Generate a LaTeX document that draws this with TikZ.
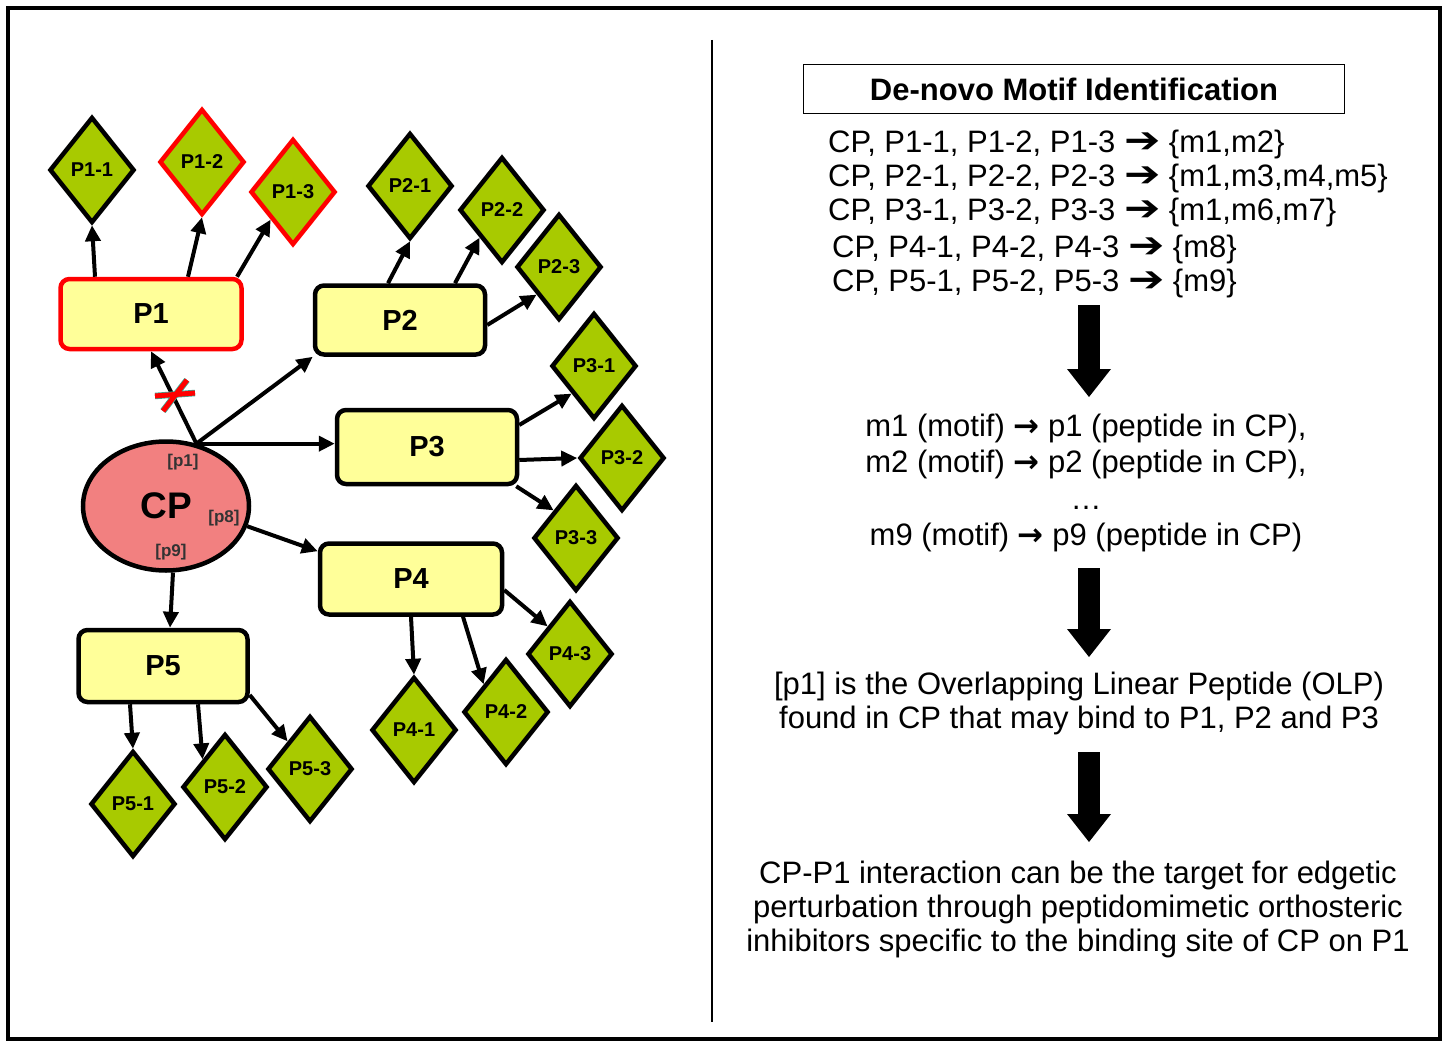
\documentclass[tikz,border=0pt]{standalone}
\usepackage{fontspec}
\setmainfont{Liberation Sans}
\newfontfamily\dingfont{DejaVu Sans}
\usetikzlibrary{arrows.meta,shapes}
\definecolor{boxyel}{RGB}{255,255,153}
\definecolor{leafgrn}{RGB}{168,202,0}
\definecolor{cppink}{RGB}{242,128,128}
\definecolor{xteal}{RGB}{60,170,150}
\tikzstyle{pbox}=[rectangle,rounded corners=9pt,draw=black,line width=4.5pt,fill=boxyel,font=\bfseries\fontsize{29}{29}\selectfont]
\tikzstyle{pleaf}=[diamond,draw=black,line width=4.5pt,fill=leafgrn,inner sep=0pt,minimum width=85pt,minimum height=106pt,font=\bfseries\fontsize{20}{20}\selectfont]
\tikzstyle{ocont}=[ellipse,draw=black,line width=4.5pt,fill=cppink,minimum width=166pt,minimum height=129pt,font=\bfseries\fontsize{37}{37}\selectfont]
\tikzstyle{plab}=[inner sep=0pt,text=black!80,font=\bfseries\fontsize{17}{17}\selectfont]
\tikzstyle{dgraph}=[-{Triangle[length=16pt,width=15pt]}, line width=4pt]
\tikzstyle{bigarr}=[-{Triangle[length=28pt,width=44pt,line width=0pt]}, line width=22pt]
\tikzstyle{txt}=[inner sep=0pt,font=\fontsize{31}{34}\selectfont]
\newcommand{\harr}{{\dingfont\bfseries\scalebox{1.4}[1.15]{➔}}}
\newcommand{\tarr}{{\dingfont\bfseries →}}

\begin{document}
\begin{tikzpicture}[x=1pt,y=-1pt]
\useasboundingbox (0,0) rectangle (1445,1043);
\draw[line width=4.5pt] (8,8) rectangle (1440,1039);
\draw[line width=2pt] (712,40) -- (712,1022);

\node[pbox,draw=red,minimum width=181pt,minimum height=70pt] (P1) at (151,314) {P1};
\node[pbox,minimum width=170pt,minimum height=69pt] (P2) at (400,320) {P2};
\node[pbox,minimum width=180pt,minimum height=74pt] (P3) at (427,447) {P3};
\node[pbox,minimum width=182pt,minimum height=71pt] (P4) at (411,579) {P4};
\node[pbox,minimum width=169pt,minimum height=72pt] (P5) at (163,666) {P5};
\node[ocont] (CP) at (166,506) {CP};
\node[plab] (lp1) at (183,462) {[p1]};
\node[plab] (lp8) at (224,518) {[p8]};
\node[plab] (lp9) at (171,552) {[p9]};

\node[pleaf] (P11) at (92,170) {P1-1};
\node[pleaf,draw=red] (P12) at (202,162) {P1-2};
\node[pleaf,draw=red] (P13) at (293,192) {P1-3};
\node[pleaf] (P21) at (410,186) {P2-1};
\node[pleaf] (P22) at (502,210) {P2-2};
\node[pleaf] (P23) at (559,267) {P2-3};
\node[pleaf] (P31) at (594,366) {P3-1};
\node[pleaf] (P32) at (622,458) {P3-2};
\node[pleaf] (P33) at (576,538) {P3-3};
\node[pleaf] (P41) at (414,730) {P4-1};
\node[pleaf] (P42) at (506,712) {P4-2};
\node[pleaf] (P43) at (570,654) {P4-3};
\node[pleaf] (P51) at (133,804) {P5-1};
\node[pleaf] (P52) at (225,787) {P5-2};
\node[pleaf] (P53) at (310,769) {P5-3};

\coordinate (cpt) at (CP.64);
\draw[dgraph] (cpt) -- (P1.south);
\draw[dgraph] (cpt) -- (P2.south west);
\draw[dgraph] (cpt) -- (cpt -| P3.west);
\draw[dgraph] (CP.-14) -- ([yshift=-10pt]P4.north west);
\draw[dgraph] (CP.-84) -- ([xshift=7pt]P5.north);

\draw[dgraph] ([xshift=-56pt]P1.north) -- (P11.south);
\draw[dgraph] ([xshift=37pt]P1.north) -- (P12.south);
\draw[dgraph] ([xshift=86pt]P1.north) -- (P13.south west);
\draw[dgraph] ([xshift=-12pt]P2.north) -- (P21.south);
\draw[dgraph] ([xshift=55pt]P2.north) -- (P22.south west);
\draw[dgraph] ([yshift=-5pt]P2.east) -- (P23.south west);
\draw[dgraph] ([yshift=22pt]P3.east) -- (P31.south west);
\draw[dgraph] ([yshift=-13pt]P3.east) -- (P32.west);
\draw[dgraph] ([xshift=-3pt]P3.south east) -- (P33.north west);
\draw[dgraph] (P4.south) -- (P41.north);
\draw[dgraph] ([xshift=52pt]P4.south) -- (P42.north west);
\draw[dgraph] ([yshift=-11pt]P4.east) -- (P43.north west);
\draw[dgraph] ([xshift=-33pt]P5.south) -- (P51.north);
\draw[dgraph] ([xshift=35pt]P5.south) -- (P52.north west);
\draw[dgraph] ([yshift=-29pt]P5.east) -- (P53.north west);

\draw[xteal,line width=6.5pt] (155,396) -- (195,393) (163,411) -- (187,380);
\draw[red,line width=5pt] (155,396) -- (195,393) (163,411) -- (187,380);

\node[draw,line width=1.5pt,minimum width=541pt,minimum height=49pt,font=\bfseries\fontsize{31}{31}\selectfont] (hd) at (1074,89) {De-novo Motif Identification};
\node[txt,anchor=base west] (l1) at (828,153) {CP, P1-1, P1-2, P1-3 \harr\ \{m1,m2\}};
\node[txt,anchor=base west] (l2) at (828,187) {CP, P2-1, P2-2, P2-3 \harr\ \{m1,m3,m4,m5\}};
\node[txt,anchor=base west] (l3) at (828,221) {CP, P3-1, P3-2, P3-3 \harr\ \{m1,m6,m7\}};
\node[txt,anchor=base west] (l4) at (832,257) {CP, P4-1, P4-2, P4-3 \harr\ \{m8\}};
\node[txt,anchor=base west] (l5) at (832,291) {CP, P5-1, P5-2, P5-3 \harr\ \{m9\}};
\node[txt,align=center,font=\fontsize{31}{36.5}\selectfont] (mot) at (1086,483) {m1 (motif) \tarr\ p1 (peptide in CP),\\m2 (motif) \tarr\ p2 (peptide in CP),\\…\\m9 (motif) \tarr\ p9 (peptide in CP)};
\node[txt,align=center] (olp) at (1079,703) {[p1] is the Overlapping Linear Peptide (OLP)\\found in CP that may bind to P1, P2 and P3};
\node[txt,align=center] (edg) at (1078,909) {CP-P1 interaction can be the target for edgetic\\perturbation through peptidomimetic orthosteric\\inhibitors specific to the binding site of CP on P1};

\coordinate (a1) at (1089,305);
\coordinate (a1e) at (1089,397);
\coordinate (a2) at (1089,568);
\coordinate (a2e) at (1089,657);
\coordinate (a3) at (1089,752);
\coordinate (a3e) at (1089,842);
\draw[bigarr] (a1) -- (a1e);
\draw[bigarr] (a2) -- (a2e);
\draw[bigarr] (a3) -- (a3e);
\end{tikzpicture}
\end{document}
